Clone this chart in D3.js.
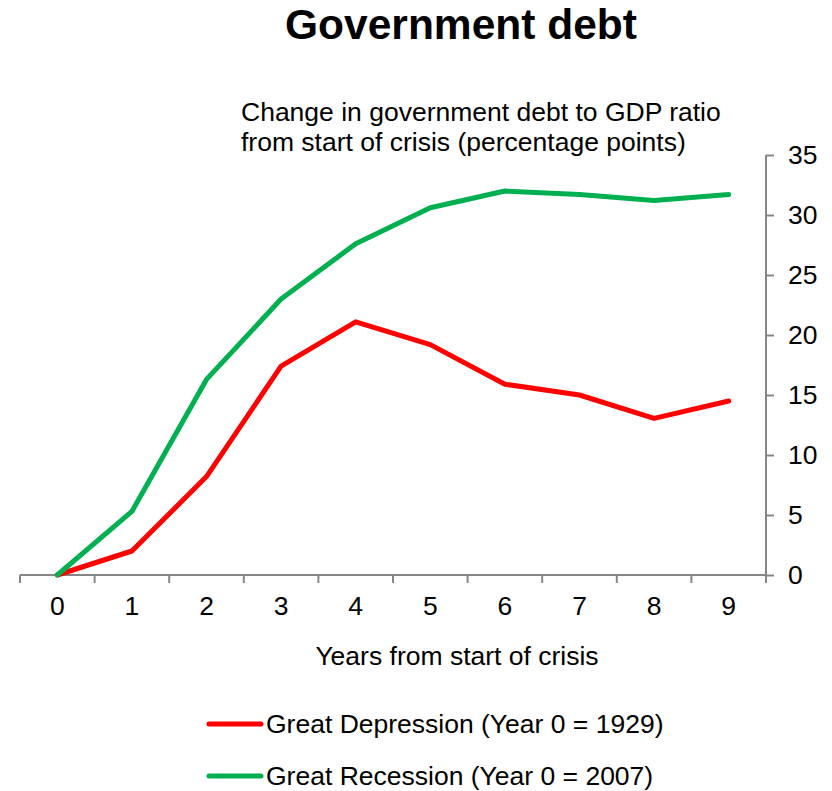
<!DOCTYPE html>
<html>
<head>
<meta charset="utf-8">
<script src="https://cdn.jsdelivr.net/npm/d3@7"></script>
<style>
  html, body { margin: 0; padding: 0; background: #fff; }
  svg { display: block; font-family: Arial, "Liberation Sans", sans-serif; }
</style>
</head>
<body>
<svg id="chart" width="832" height="791"></svg>
<script>
// Years from start of crisis
const years = [0, 1, 2, 3, 4, 5, 6, 7, 8, 9];
// Change in government debt to GDP ratio (percentage points)
const greatDepression = [0, 2.0, 8.2, 17.4, 21.1, 19.2, 15.9, 15.0, 13.05, 14.5];
const greatRecession = [0, 5.3, 16.3, 23.0, 27.6, 30.6, 32.0, 31.7, 31.2, 31.7];
const yTicks = [0, 5, 10, 15, 20, 25, 30, 35];
const seriesNames = ["Great Depression (Year 0 = 1929)", "Great Recession (Year 0 = 2007)"];
const seriesColors = ["#ff0000", "#00b050"];

const svg = d3.select("#chart");
const axisColor = "#868686";
const fontSize = 26.5;

const x = d3.scaleBand().domain(years).range([20, 766]).padding(0);
const y = d3.scaleLinear().domain([0, 35]).range([575, 155]);

// Title and subtitle
svg.append("text")
  .attr("x", 461).attr("y", 39)
  .attr("text-anchor", "middle")
  .attr("font-size", 42.5).attr("font-weight", "bold")
  .text("Government debt");

const sub = svg.append("text").attr("font-size", fontSize).attr("fill", "#000");
sub.append("tspan").attr("x", 241).attr("y", 121).text("Change in government debt to GDP ratio");
sub.append("tspan").attr("x", 241).attr("y", 151).text("from start of crisis (percentage points)");

// X axis: ticks on category boundaries, labels centred in each band
const xAxisG = svg.append("g").attr("transform", "translate(0,575)");
xAxisG.append("line")
  .attr("x1", x.range()[0]).attr("x2", x.range()[1])
  .attr("stroke", axisColor).attr("stroke-width", 2);
const boundaries = years.map(d => x(d)).concat([x.range()[1]]);
xAxisG.selectAll("line.tick").data(boundaries).join("line")
  .attr("class", "tick")
  .attr("x1", d => d).attr("x2", d => d)
  .attr("y1", 0).attr("y2", 8)
  .attr("stroke", axisColor).attr("stroke-width", 2);
xAxisG.selectAll("text").data(years).join("text")
  .attr("x", d => x(d) + x.bandwidth() / 2)
  .attr("y", 40)
  .attr("text-anchor", "middle")
  .attr("font-size", fontSize)
  .text(d => d);

svg.append("text")
  .attr("x", 457).attr("y", 665)
  .attr("text-anchor", "middle")
  .attr("font-size", fontSize)
  .text("Years from start of crisis");

// Y axis on the right
const yAxisG = svg.append("g").attr("transform", "translate(766,0)");
const yAxis = d3.axisRight(y).tickValues(yTicks).tickSize(8).tickPadding(14);
yAxisG.call(yAxis);
yAxisG.select(".domain").attr("stroke", axisColor).attr("stroke-width", 2)
  .attr("d", `M0,${y(0) + 8}V${y(35)}`);
yAxisG.selectAll(".tick line").attr("stroke", axisColor).attr("stroke-width", 2);
yAxisG.selectAll(".tick text")
  .attr("fill", "#000")
  .attr("font-size", fontSize)
  .attr("font-family", "Arial, 'Liberation Sans', sans-serif");

// Lines
const line = d3.line()
  .x((d, i) => x(years[i]) + x.bandwidth() / 2)
  .y(d => y(d));

[greatDepression, greatRecession].forEach((vals, i) => {
  svg.append("path")
    .datum(vals)
    .attr("fill", "none")
    .attr("stroke", seriesColors[i])
    .attr("stroke-width", 5)
    .attr("stroke-linejoin", "round")
    .attr("stroke-linecap", "round")
    .attr("d", line);
});

// Legend
const legendY = [724, 776];
seriesNames.forEach((name, i) => {
  svg.append("line")
    .attr("x1", 209).attr("x2", 261)
    .attr("y1", legendY[i]).attr("y2", legendY[i])
    .attr("stroke", seriesColors[i]).attr("stroke-width", 5)
    .attr("stroke-linecap", "round");
  svg.append("text")
    .attr("x", 266).attr("y", legendY[i] + 9)
    .attr("font-size", fontSize)
    .text(name);
});
</script>
</body>
</html>
